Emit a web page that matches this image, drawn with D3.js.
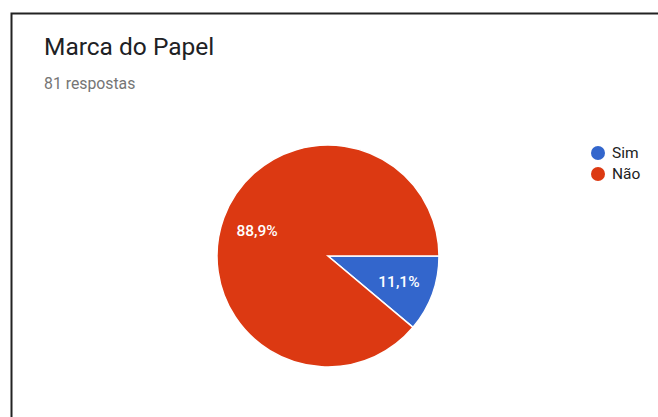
<!DOCTYPE html>
<html><head><meta charset="utf-8">
<script src="https://cdn.jsdelivr.net/npm/d3@7"></script>
<style>body{margin:0;background:#fff;}svg{display:block;}</style>
</head><body>
<svg id="c" width="658" height="417"></svg>
<script>
const categories = ["Sim", "Não"];
const values = [9, 72];
const percentLabels = ["11,1%", "88,9%"];
const colors = ["#3366cc", "#dc3912"];
const title = "Marca do Papel";
const subtitle = "81 respostas";

const svg = d3.select("#c");
svg.append("rect").attr("x", 0).attr("y", 0).attr("width", 658).attr("height", 417).attr("fill", "#fff");
svg.append("path").attr("d", "M11.5,420 L11.5,13.5 L660,13.5").attr("fill", "none").attr("stroke", "#222").attr("stroke-width", 2);

svg.append("text").attr("x", 44).attr("y", 55).text(title)
  .attr("font-family", "Roboto").attr("font-size", 24.5).attr("fill", "#202124");
svg.append("text").attr("x", 44).attr("y", 89).text(subtitle)
  .attr("font-family", "Roboto").attr("font-size", 15.8).attr("fill", "#757575");

const cx = 328, cy = 256, r = 111;
const color = d3.scaleOrdinal().domain(categories).range(colors);
const pie = d3.pie().sort(null).value(d => d.v).startAngle(Math.PI / 2).endAngle(Math.PI / 2 + 2 * Math.PI);
const data = categories.map((c, i) => ({ c, v: values[i], l: percentLabels[i] }));
const arcs = pie(data);
const arc = d3.arc().innerRadius(0).outerRadius(r);
const labelArc = d3.arc().innerRadius(r * 0.68).outerRadius(r * 0.68);
const g = svg.append("g").attr("transform", `translate(${cx},${cy})`);
g.selectAll("path").data(arcs).join("path")
  .attr("d", arc).attr("fill", d => color(d.data.c))
  .attr("stroke", "#fff").attr("stroke-width", 1.5);
g.selectAll("text").data(arcs).join("text")
  .attr("transform", d => `translate(${labelArc.centroid(d)})`)
  .attr("text-anchor", "middle").attr("dy", "0.35em")
  .attr("font-family", "Roboto").attr("font-weight", 500).attr("font-size", 15.5).attr("fill", "#fff")
  .text(d => d.data.l);

const lg = svg.append("g");
categories.forEach((c, i) => {
  const y = 153 + i * 21;
  lg.append("circle").attr("cx", 598).attr("cy", y).attr("r", 7).attr("fill", color(c));
  lg.append("text").attr("x", 612).attr("y", y).attr("dy", "0.35em")
    .attr("font-family", "Roboto").attr("font-size", 15.5).attr("fill", "#222").text(c);
});
</script>
</body></html>
